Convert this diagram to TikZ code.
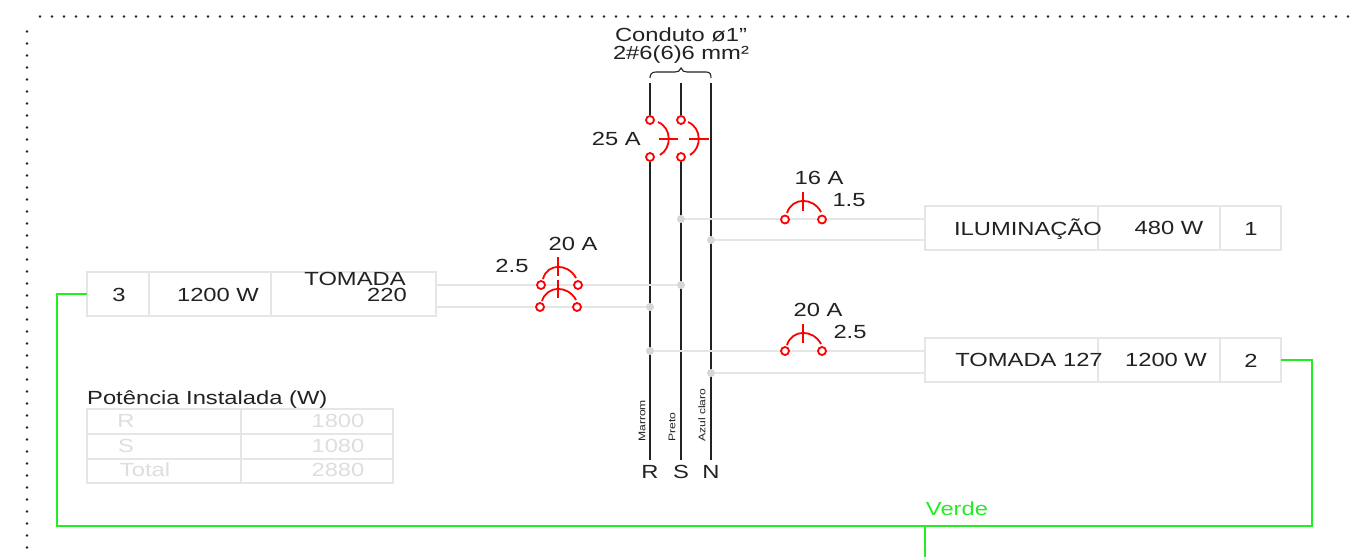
\documentclass[tikz,border=0pt]{standalone}
\usepackage{fontspec}
\setmainfont[FakeStretch=1.25]{Liberation Sans}
\definecolor{pale}{HTML}{E6E6E6}
\definecolor{paletext}{HTML}{DEDEDE}
\definecolor{ink}{HTML}{222222}
\definecolor{grn}{HTML}{22EE22}
\tikzset{
  lbl/.style={inner sep=0pt,text=ink,font=\fontsize{19}{20}\selectfont},
  tiny/.style={inner sep=0pt,text=ink,font=\fontsize{9.7}{10}\selectfont,rotate=90,anchor=west},
  pbox/.style={draw=pale,line width=1.5pt,inner sep=0pt,outer sep=0pt},
  feed/.style={draw=pale,line width=1.8pt},
  busw/.style={draw=ink,line width=2.6pt},
  red/.style={draw=red,line width=1.8pt},
  term/.style={circle,draw=red,line width=1.8pt,minimum size=8pt,inner sep=0pt,fill=white},
  jun/.style={circle,fill=black!16,minimum size=8pt,inner sep=0pt},
  earth/.style={draw=grn,line width=1.9pt},
  tlbl/.style={inner sep=0pt,text=paletext,font=\fontsize{19}{20}\selectfont}
}
\begin{document}
\begin{tikzpicture}[x=1pt,y=-1pt]
\useasboundingbox (0,0) rectangle (1362,557);
\fill[white] (0,0) rectangle (1362,557);
% dotted frame
\foreach \k in {0,...,109} \fill[ink] (40+12*\k,16.5) circle (1.3pt);
\foreach \k in {0,...,43} \fill[ink] (27,31.5+12*\k) circle (1.3pt);

% free ends of the bus bars
\coordinate (Rtop) at (650,83); \coordinate (Stop) at (681,83); \coordinate (Ntop) at (711,83);
\coordinate (Rbot) at (650,460); \coordinate (Sbot) at (681,460); \coordinate (Nbot) at (711,460);

% panels
\node[pbox,minimum width=349pt,minimum height=44pt] (boxL) at (261.5,294) {};
\node[pbox,minimum width=356pt,minimum height=44pt] (boxA) at (1103,228) {};
\node[pbox,minimum width=356pt,minimum height=44pt] (boxB) at (1103,360) {};
\draw[feed] (149,272) -- (149,316) (271,272) -- (271,316);
\draw[feed] (1098,206) -- (1098,250) (1220,206) -- (1220,250);
\draw[feed] (1098,338) -- (1098,382) (1220,338) -- (1220,382);

% bus bars and main breaker terminals
\node[term] (mR1) at (650,120) {};
\node[term] (mR2) at (650,157) {};
\node[term] (mS1) at (681,120) {};
\node[term] (mS2) at (681,157) {};
\draw[busw] (Rtop) -- (mR1);
\draw[busw] (mR2) -- (Rbot);
\draw[busw] (Stop) -- (mS1);
\draw[busw] (mS2) -- (Sbot);
\draw[busw] (Ntop) -- (Nbot);
\draw[red] (658,122) .. controls (672,128) and (672,148) .. (660,155);
\draw[red] (659,139) -- (678,139);
\draw[red] (688,122) .. controls (702,128) and (702,148) .. (690,155);
\draw[red] (689,139) -- (709,139);

% junctions
\node[jun] (jS1) at (681,219) {};
\node[jun] (jN1) at (711,240) {};
\node[jun] (jS2) at (681,285) {};
\node[jun] (jR2) at (650,307) {};
\node[jun] (jR3) at (650,351) {};
\node[jun] (jN3) at (711,373) {};

% feeders
\draw[feed] (boxL.east |- jS2) -- (jS2);
\draw[feed] (boxL.east |- jR2) -- (jR2);
\draw[feed] (jS1) -- (boxA.west |- jS1);
\draw[feed] (jN1) -- (boxA.west |- jN1);
\draw[feed] (jR3) -- (boxB.west |- jR3);
\draw[feed] (jN3) -- (boxB.west |- jN3);

% branch breakers
\node[term] (a1) at (541,285) {};
\node[term] (a2) at (578,285) {};
\node[term] (b1) at (540,307) {};
\node[term] (b2) at (577,307) {};
\draw[red] (543,279) .. controls (547,263) and (568,263) .. (576,278);
\draw[red] (558,257) -- (558,276);
\draw[red] (542,301) .. controls (547,285) and (568,285) .. (576,300);
\draw[red] (558,280) -- (558,298);
\node[term] (c1) at (785,219.5) {};
\node[term] (c2) at (822,219.5) {};
\draw[red] (787,213) .. controls (792,197) and (813,197) .. (821,212);
\draw[red] (803,192) -- (803,211);
\node[term] (d1) at (785,351) {};
\node[term] (d2) at (822,351) {};
\draw[red] (787,345) .. controls (792,329) and (813,329) .. (821,344);
\draw[red] (803,324) -- (803,343);

% brace
\draw[ink,line width=1.1pt] (650,78) .. controls (650,74) and (652,72) .. (656,72) -- (675,72)
  .. controls (678,72) and (680,71) .. (681,68) .. controls (682,71) and (684,72) .. (687,72)
  -- (706,72) .. controls (710,72) and (711,74) .. (711,78);

% earth
\coordinate (eL) at (57,526); \coordinate (eR) at (1312,526);
\coordinate (eT) at (925,526); \coordinate (eB) at (925,557);
\draw[earth] (boxL.west) -| (eL) -- (eR) |- (boxB.east);
\draw[earth] (eT) -- (eB);
\node[inner sep=0pt,text=grn,font=\fontsize{19}{20}\selectfont] (verde) at (957,508.5) {Verde};

% panel texts
\node[lbl] (t3) at (119,295) {3};
\node[lbl] (t1200a) at (218,295) {1200 W};
\node[lbl] (tTom) at (355,279) {TOMADA};
\node[lbl] (t220) at (387,295) {220};
\node[lbl] (tIlu) at (1028,229) {ILUMINAÇÃO};
\node[lbl] (t480) at (1169,228) {480 W};
\node[lbl] (t1) at (1251,229) {1};
\node[lbl] (tT127) at (1029,360) {TOMADA 127};
\node[lbl] (t1200b) at (1166,360) {1200 W};
\node[lbl] (t2) at (1251,361) {2};

% breaker and conduit labels
\node[lbl] (cond1) at (681,35) {Conduto ø1"};
\node[lbl] (cond2) at (681,54.5) {2\#6(6)6 mm²};
\node[lbl,anchor=east] (l25) at (641,139) {25 A};
\node[lbl] (l20a) at (573,244) {20 A};
\node[lbl] (l25b) at (512,266) {2.5};
\node[lbl] (l16) at (819,178) {16 A};
\node[lbl] (l15) at (849,200) {1.5};
\node[lbl] (l20b) at (818,310) {20 A};
\node[lbl] (l25c) at (850,332) {2.5};

% phase labels
\node[tiny] (marrom) at (642,442) {Marrom};
\node[tiny] (preto) at (672,442) {Preto};
\node[tiny] (azul) at (702,442) {Azul claro};
\node[lbl] (lR) at (650,472) {R};
\node[lbl] (lS) at (681,472) {S};
\node[lbl] (lN) at (711,472) {N};

% table
\node[lbl,anchor=west] (ptit) at (87,399.5) {Potência Instalada (W)};
\node[pbox,minimum width=306pt,minimum height=74pt] (tab) at (240,446) {};
\draw[feed] (87,434) -- (393,434) (87,459) -- (393,459) (241,409) -- (241,483);
\node[tlbl] (tR) at (126,421) {R};
\node[tlbl] (vR) at (338,421) {1800};
\node[tlbl] (tS) at (126,446) {S};
\node[tlbl] (vS) at (338,446) {1080};
\node[tlbl] (tTot) at (145,470) {Total};
\node[tlbl] (vT) at (338,470) {2880};
\end{tikzpicture}
\end{document}
